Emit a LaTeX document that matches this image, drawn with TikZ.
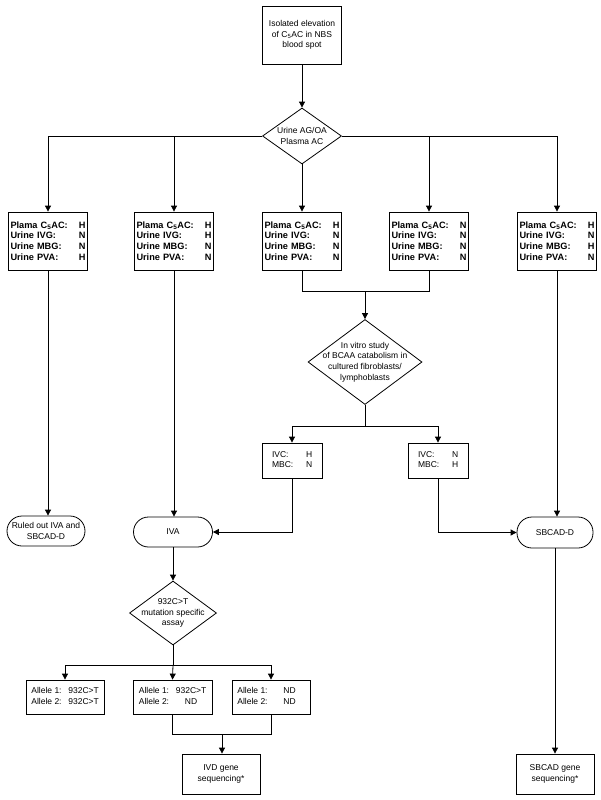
\documentclass[tikz,border=0pt]{standalone}
\usepackage{fontspec}
\setmainfont{Liberation Sans}
\usetikzlibrary{shapes.geometric,arrows.meta}
\newcommand\allelebox[2]{\begin{tabular}{@{}l@{\hspace{7pt}}c@{}}Allele 1: & \makebox[30pt]{#1}\\Allele 2: & \makebox[30pt]{#2}\end{tabular}}
\newcommand\ivcbox[2]{\begin{tabular}{@{}p{34pt}@{}p{6pt}@{}}IVC: & #1\\MBC: & #2\end{tabular}}
\begin{document}
\begin{tikzpicture}[x=1pt,y=-1pt,
 every node/.style={font=\fontsize{8.5}{10.5}\selectfont},
 box/.style={draw, line width=0.8pt, inner sep=0pt, align=center},
 term/.style={box, rounded corners=15pt},
 dia/.style={draw, diamond, line width=0.8pt, inner sep=0pt},
 ln/.style={line width=0.8pt},
 arr/.style={ln, -{Triangle[length=6pt,width=6pt]}},
 pbox/.style={box, minimum width=79pt, minimum height=58pt, text width=75pt, align=left, font=\fontsize{9.2}{10.7}\selectfont\bfseries},
]
\useasboundingbox (0,0) rectangle (600,800);
\fill[white] (0,0) rectangle (600,800);

\node[box, minimum width=79pt, minimum height=58pt] (top) at (302,35) {Isolated elevation\\of C\textsubscript{5}AC in NBS\\blood spot};
\node[dia, minimum width=79pt, minimum height=56pt] (d1) at (302,136) {};
\node[align=center] (d1t) at (d1.center) {Urine AG/OA\\Plasma AC};
\draw[arr] (top) -- (d1.north);

\node[pbox] (p1) at (48,241) {Plama C\textsubscript{5}AC:\hfill H\\Urine IVG:\hfill N\\Urine MBG:\hfill N\\Urine PVA:\hfill H};
\node[pbox] (p2) at (174,241) {Plama C\textsubscript{5}AC:\hfill H\\Urine IVG:\hfill H\\Urine MBG:\hfill N\\Urine PVA:\hfill N};
\node[pbox] (p3) at (302,241) {Plama C\textsubscript{5}AC:\hfill H\\Urine IVG:\hfill N\\Urine MBG:\hfill N\\Urine PVA:\hfill N};
\node[pbox] (p4) at (429,241) {Plama C\textsubscript{5}AC:\hfill N\\Urine IVG:\hfill N\\Urine MBG:\hfill N\\Urine PVA:\hfill N};
\node[pbox] (p5) at (557,241) {Plama C\textsubscript{5}AC:\hfill H\\Urine IVG:\hfill N\\Urine MBG:\hfill H\\Urine PVA:\hfill N};

\draw[arr] (d1.west) -| (p1.north);
\draw[arr] (d1.west) -| (p2.north);
\draw[arr] (d1.south) -- (p3.north);
\draw[arr] (d1.east) -| (p4.north);
\draw[arr] (d1.east) -| (p5.north);

\coordinate (j1) at (365,291);
\draw[ln] (p3.south) |- (j1);
\draw[ln] (p4.south) |- (j1);
\node[dia, minimum width=114pt, minimum height=85pt] (d2) at (365,362) {};
\node[align=center, font=\fontsize{8.5}{10.7}\selectfont] (d2t) at (d2.center) {In vitro study\\of BCAA catabolism in\\cultured fibroblasts/\\lymphoblasts};
\draw[arr] (j1) -- (d2.north);
\coordinate (j2) at (365,426);
\draw[ln] (d2.south) -- (j2);

\node[box, minimum width=60pt, minimum height=35pt] (v1) at (292,460.5) {\ivcbox{H}{N}};
\node[box, minimum width=60pt, minimum height=35pt] (v2) at (438,460.5) {\ivcbox{N}{H}};
\draw[arr] (j2) -| (v1.north);
\draw[arr] (j2) -| (v2.north);

\node[term, minimum width=78pt, minimum height=30pt] (ro) at (46,531) {Ruled out IVA and\\SBCAD-D};
\node[term, minimum width=79pt, minimum height=30pt] (iva) at (173,532) {IVA};
\node[term, minimum width=76pt, minimum height=31pt] (sbd) at (555,532.5) {SBCAD-D};

\draw[arr] (p1.south) -- (p1.south |- ro.north);
\draw[arr] (p2.south) -- (p2.south |- iva.north);
\draw[arr] (p5.south) -- (p5.south |- sbd.north);
\draw[arr] (v1.south) |- (iva.east);
\draw[arr] (v2.south) |- (sbd.west);

\node[dia, minimum width=87pt, minimum height=64pt] (d3) at (173,613) {};
\node[align=center] (d3t) at (d3.center) {932C>T\\mutation specific\\assay};
\draw[arr] (iva.south) -- (d3.north);
\coordinate (j3) at (173,665);
\draw[ln] (d3.south) -- (j3);

\node[box, minimum width=78pt, minimum height=34pt] (a1) at (65,697) {\allelebox{932C>T}{932C>T}};
\node[box, minimum width=79pt, minimum height=34pt] (a2) at (172.5,697) {\allelebox{932C>T}{ND}};
\node[box, minimum width=78pt, minimum height=34pt] (a3) at (271,697) {\allelebox{ND}{ND}};
\draw[arr] (j3) -| (a1.north);
\draw[arr] (j3) -- (a2.north);
\draw[arr] (j3) -| (a3.north);

\coordinate (j4) at (222,734);
\draw[ln] (a2.south) |- (j4);
\draw[ln] (a3.south) |- (j4);
\node[box, minimum width=78pt, minimum height=40pt] (ivd) at (221,774) {IVD gene\\sequencing*};
\draw[arr] (j4) -- (j4 |- ivd.north);
\node[box, minimum width=78pt, minimum height=40pt] (sbg) at (555,774) {SBCAD gene\\sequencing*};
\draw[arr] (sbd.south) -- (sbg.north);
\end{tikzpicture}
\end{document}
